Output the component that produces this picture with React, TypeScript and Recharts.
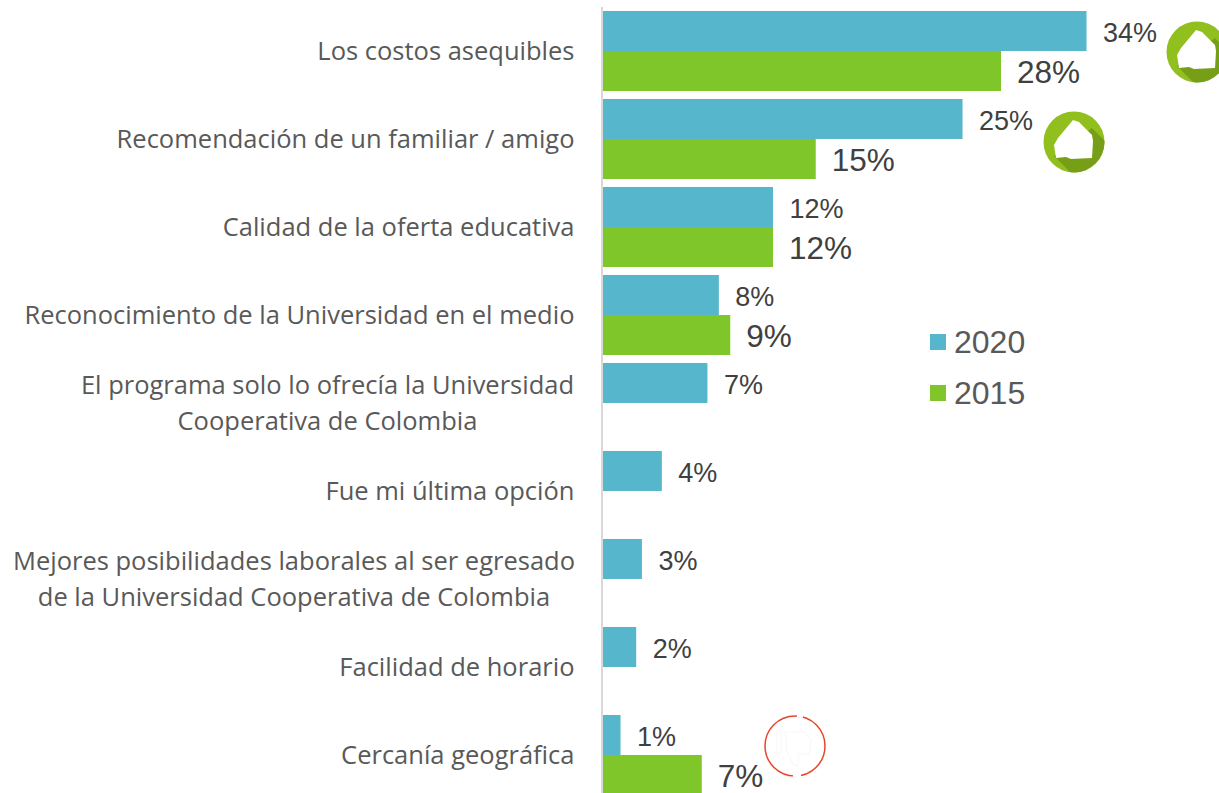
import React from 'react';
import { BarChart, Bar, XAxis, YAxis, LabelList } from 'recharts';

const categories = [
  'Los costos asequibles',
  'Recomendación de un familiar / amigo',
  'Calidad de la oferta educativa',
  'Reconocimiento de la Universidad en el medio',
  'El programa solo lo ofrecía la Universidad|Cooperativa de Colombia',
  'Fue mi última opción',
  'Mejores posibilidades laborales al ser egresado|de la Universidad Cooperativa de Colombia',
  'Facilidad de horario',
  'Cercanía geográfica',
];
const values2020 = [34, 25.3, 12, 8.2, 7.4, 4.2, 2.8, 2.4, 1.3];
const values2015: (number | null)[] = [28, 15, 12, 9, null, null, null, null, 7];
const labels2020 = ['34%', '25%', '12%', '8%', '7%', '4%', '3%', '2%', '1%'];
const labels2015 = ['28%', '15%', '12%', '9%', '', '', '', '', '7%'];

const tableData = categories.map((name, i) => ({
  name,
  y2020: values2020[i],
  y2015: values2015[i],
  l2020: labels2020[i],
  l2015: labels2015[i],
}));

const BLUE = '#56B6CB';
const GREEN = '#7FC62B';
const TICK_FONT = { fontFamily: "'Open Sans', sans-serif", fontSize: 25.5, fill: '#595959' };

const CategoryTick = (props: any) => {
  const { y, payload } = props;
  const lines = String(payload.value).split('|');
  const RIGHT = 574.5;
  if (lines.length === 1) {
    return (
      <text x={RIGHT} y={y + 8.5} textAnchor="end" {...TICK_FONT}>
        {lines[0]}
      </text>
    );
  }
  const center = lines[1].startsWith('de') ? 294 : 327.5;
  return (
    <g>
      <text x={center} y={y - 9} textAnchor="middle" {...TICK_FONT}>
        {lines[0]}
      </text>
      <text x={center} y={y + 27} textAnchor="middle" {...TICK_FONT}>
        {lines[1]}
      </text>
    </g>
  );
};

const valueLabel = (size: number, dx: number) => (props: any) => {
  const { x, y, width, height, value } = props;
  if (!value) return null;
  return (
    <text
      x={x + width + dx}
      y={y + height / 2 + size * 0.36 + 1}
      fontFamily="'Liberation Sans', Arial, sans-serif"
      fontSize={size}
      fill="#404040"
    >
      {value}
    </text>
  );
};

const HouseIcon = ({ cx, cy }: { cx: number; cy: number }) => (
  <g transform={`translate(${cx} ${cy})`}>
    <clipPath id={`c${cx}`}>
      <circle r={30.5} />
    </clipPath>
    <circle r={30.5} fill="#90BF1E" />
    <path d="M-20 14 L18 -14 L34 2 L34 34 L0 34 Z" fill="#769F17" clipPath={`url(#c${cx})`} />
    <path
      d="M-1 -22 L5 -20 L18 -7 L19 -1 L18 16 L-3 17 L-8 15 L-18 16 L-20 3 L-16 -4 Z"
      fill="#FFFFFF"
    />
  </g>
);

const ThumbIcon = ({ cx, cy }: { cx: number; cy: number }) => (
  <g transform={`translate(${cx} ${cy})`}>
    <circle r={30} fill="#FFFFFF" stroke="#E8452C" strokeWidth={1.5} />
    <path
      d="M-18 -14 L-14 -14 L-14 8 L-18 8 Z M-10 -14 L10 -14 L16 -6 L14 8 L4 8 L3 20 L-2 18 L-8 6 Z"
      fill="none"
      stroke="#F7F7F7"
      strokeWidth={1}
    />
    <path d="M2 -30.5 L8 -29.5" fill="none" stroke="#FFFFFF" strokeWidth={3} />
    <path d="M6 29.5 L-2 30.5" fill="none" stroke="#FFFFFF" strokeWidth={3} />
  </g>
);

const LegendItem = ({ x, y, color, text }: { x: number; y: number; color: string; text: string }) => (
  <div style={{ position: 'absolute', left: x, top: y, height: 36 }}>
    <div style={{ position: 'absolute', left: 0, top: 10, width: 16, height: 16, background: color }} />
    <div
      style={{
        position: 'absolute',
        left: 24,
        top: 0,
        fontFamily: "'Liberation Sans', Arial, sans-serif",
        fontSize: 32,
        lineHeight: '36px',
        color: '#595959',
      }}
    >
      {text}
    </div>
  </div>
);

export default function App() {
  return (
    <div style={{ position: 'absolute', left: 0, top: 0, width: 1219, height: 793, overflow: 'hidden', background: '#fff' }}>
      <BarChart
        width={1219}
        height={800}
        layout="vertical"
        data={tableData}
        margin={{ top: 7, right: 47, bottom: 1, left: 0 }}
        barSize={40}
        barGap={0}
        barCategoryGap={8}
      >
        <XAxis type="number" hide domain={[0, 40]} />
        <YAxis
          type="category"
          dataKey="name"
          width={602}
          tick={<CategoryTick />}
          tickLine={false}
          interval={0}
          axisLine={{ stroke: '#D9D9D9', strokeWidth: 2 }}
        />
        <Bar dataKey="y2020" fill={BLUE} isAnimationActive={false}>
          <LabelList dataKey="l2020" content={valueLabel(27, 16.5)} />
        </Bar>
        <Bar dataKey="y2015" fill={GREEN} isAnimationActive={false}>
          <LabelList dataKey="l2015" content={valueLabel(31.5, 16)} />
        </Bar>
      </BarChart>
      <svg width={1219} height={793} style={{ position: 'absolute', left: 0, top: 0, pointerEvents: 'none' }}>
        <HouseIcon cx={1197} cy={52} />
        <HouseIcon cx={1074} cy={142} />
        <ThumbIcon cx={795} cy={746} />
      </svg>
      <LegendItem x={930} y={324} color={BLUE} text="2020" />
      <LegendItem x={930} y={375} color={GREEN} text="2015" />
    </div>
  );
}
